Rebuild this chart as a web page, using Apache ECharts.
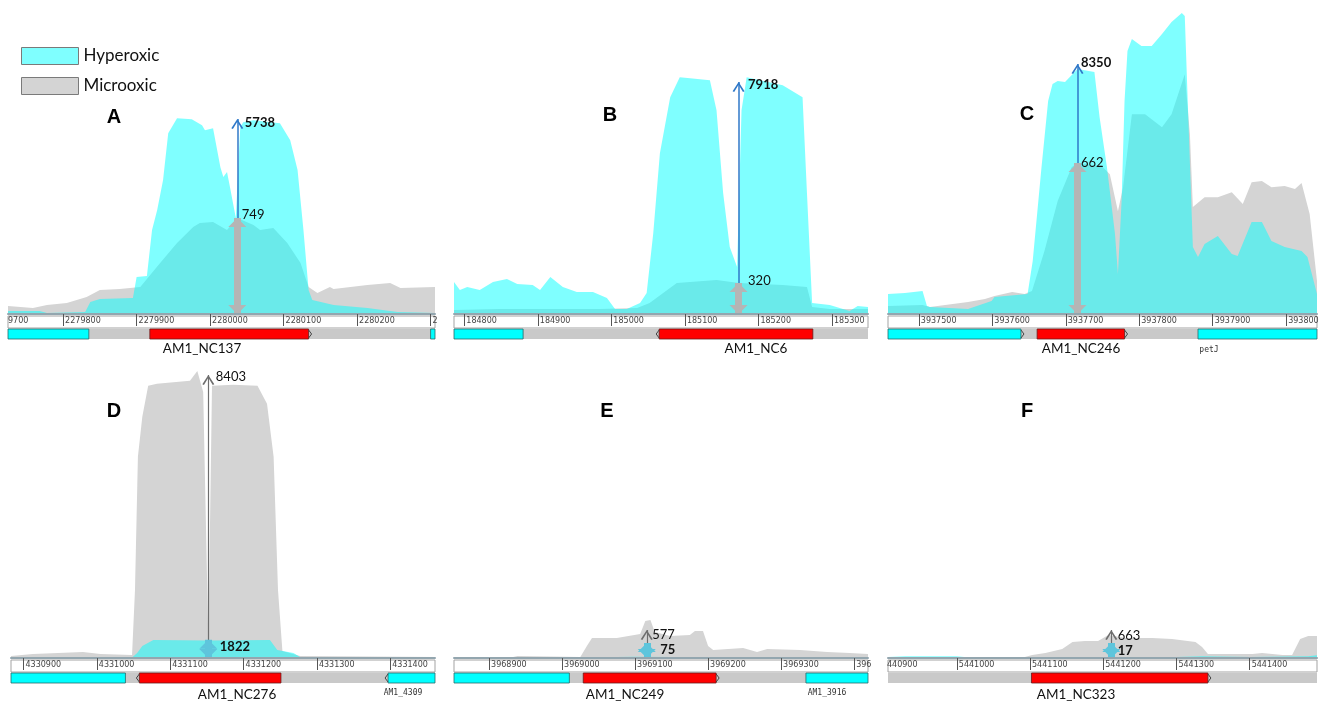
<!DOCTYPE html>
<html><head><meta charset="utf-8">
<script src="https://cdn.jsdelivr.net/npm/echarts@6.0.0/dist/echarts.min.js"></script>
<style>html,body{margin:0;padding:0;background:#fff}#c{width:1319px;height:703px}</style>
</head><body><div id="c"></div>
<script>
// ================= DATA =================
const panelIds = ['A', 'B', 'C', 'D', 'E', 'F'];

// genome coordinate range shown in each panel (bp)
const rangeA = [2279725, 2280306];
const rangeB = [184786, 185349];
const rangeC = [3937458, 3938042];
const rangeD = [4330883, 4331461];
const rangeE = [3968852, 3969419];
const rangeF = [5440906, 5441492];

// ruler tick labels
const ticksA = [2279800, 2279900, 2280000, 2280100, 2280200, 2280300];
const ticksB = [184800, 184900, 185000, 185100, 185200, 185300];
const ticksC = [3937500, 3937600, 3937700, 3937800, 3937900, 3938000];
const ticksD = [4330900, 4331000, 4331100, 4331200, 4331300, 4331400];
const ticksE = [3968900, 3969000, 3969100, 3969200, 3969300, 3969400];
const ticksF = [5441000, 5441100, 5441200, 5441300, 5441400];
const cutLabels = {2280300: '2', 3938000: '393800', 3969400: '396'};

// coverage, Hyperoxic  [bp, reads]
const hyperA = [[2279725,88],[2279768,88],[2279778,29],[2279830,59],[2279837,353],[2279850,441],[2279895,470],[2279900,1088],[2279914,1117],[2279921,2470],[2279928,3058],[2279936,3940],[2279943,5321],[2279955,5762],[2279975,5733],[2279989,5557],[2279993,5410],[2280004,5468],[2280014,4322],[2280018,4028],[2280023,4175],[2280027,3734],[2280035,2822],[2280041,5498],[2280045,5645],[2280059,5704],[2280095,5615],[2280109,5116],[2280119,4234],[2280127,2470],[2280134,706],[2280139,412],[2280168,265],[2280214,176],[2280255,59],[2280306,29]];
const hyperB = [[184786,1091],[184794,818],[184804,921],[184821,818],[184839,1091],[184858,1194],[184872,1023],[184893,989],[184903,818],[184917,1262],[184934,921],[184953,750],[184975,750],[184994,546],[185005,171],[185021,171],[185039,375],[185048,716],[185057,2762],[185066,5490],[185080,7400],[185093,8082],[185107,8048],[185134,7979],[185143,6956],[185152,4126],[185161,2285],[185171,1603],[185177,6956],[185184,8082],[185233,7809],[185260,7400],[185266,4126],[185273,375],[185297,307],[185324,102],[185335,273],[185349,239]];
const hyperC = [[3937458,668],[3937481,701],[3937505,768],[3937511,267],[3937515,234],[3937567,167],[3937599,434],[3937603,568],[3937648,668],[3937655,1770],[3937667,4910],[3937676,7114],[3937682,7682],[3937689,7782],[3937699,7749],[3937716,8183],[3937739,8083],[3937746,6580],[3937756,4910],[3937767,2672],[3937771,1336],[3937776,3774],[3937780,7114],[3937784,8784],[3937790,9185],[3937803,8951],[3937817,8951],[3937831,9352],[3937844,9753],[3937858,10053],[3937862,9953],[3937866,7114],[3937873,2238],[3937880,1904],[3937889,2338],[3937907,2605],[3937926,2004],[3937934,1937],[3937953,3073],[3937967,3073],[3937980,2438],[3937998,2238],[3938021,2104],[3938029,1904],[3938042,668]];
const hyperD = [[4330883,30],[4331048,50],[4331055,500],[4331062,1200],[4331077,1800],[4331152,1750],[4331236,1800],[4331246,800],[4331268,500],[4331277,100],[4331461,50]];
const hyperE = [[3968852,4],[3969025,3],[3969100,6],[3969200,4],[3969300,3],[3969419,3]];
const hyperF = [[5440906,1],[5440930,2],[5441000,2],[5441010,1],[5441100,1],[5441300,1],[5441335,2],[5441400,1],[5441480,2],[5441492,3]];

// coverage, Microoxic  [bp, reads]
const microA = [[2279725,62],[2279759,47],[2279778,70],[2279805,86],[2279832,133],[2279850,187],[2279877,195],[2279905,211],[2279932,398],[2279955,554],[2279977,679],[2279986,710],[2280004,718],[2280023,655],[2280037,749],[2280059,694],[2280068,655],[2280086,671],[2280105,554],[2280123,398],[2280134,211],[2280146,164],[2280163,211],[2280168,195],[2280191,211],[2280214,226],[2280245,242],[2280259,203],[2280306,211]];
const microB = [[184786,41],[184849,52],[184984,52],[185035,62],[185052,113],[185076,247],[185089,319],[185143,350],[185173,320],[185233,299],[185266,278],[185273,72],[185297,52],[185349,52]];
const microC = [[3937458,35],[3937505,39],[3937515,31],[3937567,53],[3937590,66],[3937603,79],[3937627,96],[3937644,88],[3937654,101],[3937671,276],[3937689,495],[3937708,644],[3937716,662],[3937749,648],[3937760,613],[3937771,451],[3937778,556],[3937790,876],[3937808,876],[3937831,819],[3937844,876],[3937862,1051],[3937869,788],[3937873,469],[3937889,512],[3937907,512],[3937926,534],[3937941,482],[3937953,578],[3937967,583],[3937980,556],[3937998,561],[3938012,548],[3938021,574],[3938032,438],[3938042,145]];
const microD = [[4330883,59],[4330913,118],[4330981,178],[4331005,118],[4331048,89],[4331052,2013],[4331056,5979],[4331062,7163],[4331070,8081],[4331082,8140],[4331127,8229],[4331137,8525],[4331145,7900],[4331152,533],[4331157,8081],[4331186,8110],[4331219,8081],[4331232,7548],[4331241,5979],[4331247,2013],[4331253,207],[4331277,59],[4331461,30]];
const microE = [[3968852,21],[3968933,21],[3968939,41],[3969025,21],[3969034,247],[3969041,412],[3969075,412],[3969107,494],[3969114,762],[3969121,783],[3969127,536],[3969148,453],[3969175,474],[3969182,556],[3969193,556],[3969200,247],[3969207,165],[3969248,206],[3969267,124],[3969281,185],[3969326,165],[3969363,124],[3969394,103],[3969419,82]];
const microF = [[5440906,24],[5441093,24],[5441103,71],[5441121,119],[5441144,213],[5441158,379],[5441175,403],[5441193,403],[5441207,545],[5441230,474],[5441267,474],[5441294,450],[5441326,379],[5441335,261],[5441343,95],[5441404,95],[5441417,119],[5441445,71],[5441458,71],[5441469,450],[5441480,521],[5441492,521]];

// genes [start, end, kind(0 = neighbour, 1 = sRNA), strand]
const genesA = [[2279725,2279835,0,0],[2279918,2280134,1,1],[2280300,2280306,0,0]];
const genesB = [[184786,184880,0,0],[185065,185274,1,-1]];
const genesC = [[3937458,3937639,0,1],[3937661,3937780,1,1],[3937880,3938042,0,0]];
const genesD = [[4330883,4331039,0,0],[4331058,4331251,1,-1],[4331397,4331461,0,-1]];
const genesE = [[3968852,3969010,0,0],[3969029,3969211,1,1],[3969334,3969419,0,0]];
const genesF = [[5441102,5441343,1,1]];
const geneNames = ['AM1_NC137', 'AM1_NC6', 'AM1_NC246', 'AM1_NC276', 'AM1_NC249', 'AM1_NC323'];

// annotated coverage at the marked position
const annotBp = [2280037, 185173, 3937716, 4331152, 3969116, 5441211];
const annotHyper = [5738, 7918, 8350, 1822, 75, 17];
const annotMicro = [749, 320, 662, 8403, 577, 663];

// ================= LAYOUT / STYLE =================
const ranges = [rangeA, rangeB, rangeC, rangeD, rangeE, rangeF];
const ticks = [ticksA, ticksB, ticksC, ticksD, ticksE, ticksF];
const hypers = [hyperA, hyperB, hyperC, hyperD, hyperE, hyperF];
const micros = [microA, microB, microC, microD, microE, microF];
const genes = [genesA, genesB, genesC, genesD, genesE, genesF];

const gridLayout = [
  {left: 8, top: 0, width: 427, height: 314},
  {left: 454, top: 0, width: 414, height: 314},
  {left: 888, top: 0, width: 429, height: 314},
  {left: 11, top: 358, width: 424, height: 300},
  {left: 454, top: 358, width: 414, height: 300},
  {left: 888, top: 358, width: 429, height: 300}
];
const hyperMax = [9240, 10717, 10487, 30000, 1500, 340];
const microMax = [2450, 3241, 1377, 8908, 6182, 7104];
const hyperLabelOff = [[2, 4], [4, 3], [-2, -1], [6, 7], [8, 7], [1, 8]];
const microLabelOff = [[-1, -3], [4, -2], [-2, 0], [2, 2], [0, 5], [1, 6]];
const letterPos = [[114, 117], [610, 115], [1027, 114], [114, 411], [607, 411], [1027, 411]];
const geneNamePos = [[202, 349], [756, 349], [1081, 349], [237, 695], [625, 695], [1076, 695]];

const CYAN = 'rgba(0,255,255,0.5)';
const GRAY = '#d4d4d4';
const CHEVRON = 'path://M0,10 L6,0 L12,10 L10.4,10.8 L6,3 L1.6,10.8 Z';

function renderGenes(params, api) {
  const cs = params.coordSys;
  const base = cs.y + cs.height;
  const x0 = api.coord([api.value(0), 0])[0];
  const x1 = api.coord([api.value(1), 0])[0];
  const kind = api.value(2), strand = api.value(3);
  const l = Math.max(x0, cs.x), r = Math.min(x1, cs.x + cs.width);
  const ch = [];
  if (params.dataIndex === 0) {
    ch.push({type: 'rect', shape: {x: cs.x, y: base + 2, width: cs.width, height: 12},
      style: {fill: '#fff', stroke: '#a3a3a3', lineWidth: 1}});
    ch.push({type: 'rect', shape: {x: cs.x, y: base + 15, width: cs.width, height: 10},
      style: {fill: '#c9c9c9'}});
  }
  ch.push({type: 'rect', shape: {x: l, y: base + 15, width: r - l, height: 10},
    style: {fill: kind ? '#ff0000' : '#00ffff', stroke: kind ? '#6b1a1a' : '#2a6a6a', lineWidth: 0.8}});
  if (strand === 1) ch.push({type: 'polyline', shape: {points: [[r, base + 16], [r + 3, base + 20], [r, base + 24]]},
    style: {stroke: '#444', fill: null, lineWidth: 1}});
  if (strand === -1) ch.push({type: 'polyline', shape: {points: [[l, base + 16], [l - 3, base + 20], [l, base + 24]]},
    style: {stroke: '#444', fill: null, lineWidth: 1}});
  return {type: 'group', children: ch};
}

function shaft(bp, val, color, w, z) {
  return {
    silent: true, animation: false, z: z,
    symbol: ['none', 'none'],
    lineStyle: {color: color, width: w, type: 'solid', opacity: 1},
    label: {show: false}, emphasis: {disabled: true},
    data: [[{coord: [bp, 0]}, {coord: [bp, val]}]]
  };
}
// arrow heads + value label, drawn as marker points at the data coordinates
function heads(bp, val, thick, color, bold, off) {
  const noLabel = {show: false};
  const items = [];
  if (thick) {
    items.push({coord: [bp, 0], symbol: 'triangle', symbolSize: [18, 9], symbolRotate: 180, symbolOffset: [0, -4.5],
      itemStyle: {color: color}, label: noLabel});
    items.push({coord: [bp, val], symbol: 'triangle', symbolSize: [18, 9], symbolOffset: [0, 4.5],
      itemStyle: {color: color}, label: noLabel});
  } else {
    items.push({coord: [bp, val], symbol: CHEVRON, symbolSize: [12, 10], symbolOffset: [0, 5],
      itemStyle: {color: color}, label: noLabel});
  }
  items.push({coord: [bp, val], symbol: 'circle', symbolSize: 1, itemStyle: {color: 'rgba(0,0,0,0)'},
    label: {show: true, position: 'right', distance: 5, offset: off, formatter: String(val),
      fontFamily: 'Lato', fontSize: 13, fontWeight: bold ? 'bold' : 'normal', color: '#111'}});
  return {silent: true, animation: false, z: thick ? 7 : 6, data: items};
}

const grids = [], xAxes = [], yAxes = [], series = [], graphics = [];
for (let i = 0; i < 6; i++) {
  grids.push(Object.assign({outerBoundsMode: 'none', containLabel: false}, gridLayout[i]));
  xAxes.push({
    type: 'value', gridIndex: i, min: ranges[i][0], max: ranges[i][1], z: 10,
    axisLine: {show: true, onZero: false, lineStyle: {color: '#93a6af', width: 2}},
    axisTick: {show: true, customValues: ticks[i], length: 12, inside: false, lineStyle: {color: '#555', width: 1}},
    axisLabel: {show: true, customValues: ticks[i], margin: 3, align: 'left', verticalAlign: 'top',
      padding: [0, 0, 0, 2], fontSize: 8, fontFamily: 'DejaVu Sans', color: '#444',
      formatter: v => cutLabels[v] || String(v)},
    splitLine: {show: false}
  });
  yAxes.push({type: 'value', gridIndex: i, min: 0, max: hyperMax[i], show: false});
  yAxes.push({type: 'value', gridIndex: i, min: 0, max: microMax[i], show: false});
  const top = i < 3;
  const microCol = top ? '#b5b5b5' : '#6e6e6e';
  const hyperCol = top ? '#2f78c8' : '#5ec5dc';
  const micro = {
    name: 'Microoxic', type: 'line', xAxisIndex: i, yAxisIndex: 2 * i + 1, data: micros[i],
    color: GRAY, symbol: 'none', showSymbol: false, clip: false, animation: false, silent: true,
    lineStyle: {width: 0, opacity: 0}, areaStyle: {color: GRAY, opacity: 1}, z: 2,
    markLine: top ? shaft(annotBp[i], annotMicro[i], microCol, 7, 7) : shaft(annotBp[i], annotMicro[i], microCol, 1.2, 5),
    markPoint: heads(annotBp[i], annotMicro[i], top, microCol, false, microLabelOff[i])
  };
  const hyper = {
    name: 'Hyperoxic', type: 'line', xAxisIndex: i, yAxisIndex: 2 * i, data: hypers[i],
    color: CYAN, symbol: 'none', showSymbol: false, clip: false, animation: false, silent: true,
    lineStyle: {width: 0, opacity: 0}, areaStyle: {color: CYAN, opacity: 1}, z: 3,
    markLine: top ? shaft(annotBp[i], annotHyper[i], hyperCol, 1.5, 5) : shaft(annotBp[i], annotHyper[i], hyperCol, 7, 7),
    markPoint: heads(annotBp[i], annotHyper[i], !top, hyperCol, true, hyperLabelOff[i])
  };
  series.push(micro, hyper);
  series.push({
    type: 'custom', xAxisIndex: i, yAxisIndex: 2 * i, data: genes[i], renderItem: renderGenes,
    encode: {x: [0, 1]}, clip: false, silent: true, animation: false, z: 2
  });
  graphics.push({type: 'text', x: letterPos[i][0], y: letterPos[i][1],
    style: {text: panelIds[i], font: 'bold 20px "Liberation Sans", Arial, sans-serif', fill: '#000', align: 'center', verticalAlign: 'middle'}});
  graphics.push({type: 'text', x: geneNamePos[i][0], y: geneNamePos[i][1],
    style: {text: geneNames[i], font: '13.5px Lato, sans-serif', fill: '#111', align: 'center', verticalAlign: 'middle'}});
}
// small neighbour-gene names and edge-clipped ruler labels
const smallTexts = [['petJ', 1209, 350], ['AM1_4309', 403, 693], ['AM1_3916', 827, 693]];
smallTexts.forEach(t => graphics.push({type: 'text', x: t[1], y: t[2],
  style: {text: t[0], font: '8px "DejaVu Sans Mono", monospace', fill: '#333', align: 'center', verticalAlign: 'middle'}}));
const edgeTexts = [['9700', 8, 317], ['440900', 887, 661]];
edgeTexts.forEach(t => graphics.push({type: 'text', x: t[1], y: t[2], z: 20,
  style: {text: t[0], font: '8px "DejaVu Sans", sans-serif', fill: '#444', align: 'left', verticalAlign: 'top'}}));

const chart = echarts.init(document.getElementById('c'), null, {renderer: 'canvas'});
chart.setOption({
  backgroundColor: '#fff',
  animation: false,
  legend: {
    data: ['Hyperoxic', 'Microoxic'], orient: 'vertical', left: 16, top: 42,
    icon: 'rect', itemWidth: 57, itemHeight: 17, itemGap: 12, selectedMode: false,
    itemStyle: {borderColor: '#7a7a7a', borderWidth: 1},
    textStyle: {fontFamily: 'Lato', fontSize: 17, color: '#111'}
  },
  grid: grids, xAxis: xAxes, yAxis: yAxes, series: series,
  graphic: {elements: graphics}
});
</script>
</body></html>
